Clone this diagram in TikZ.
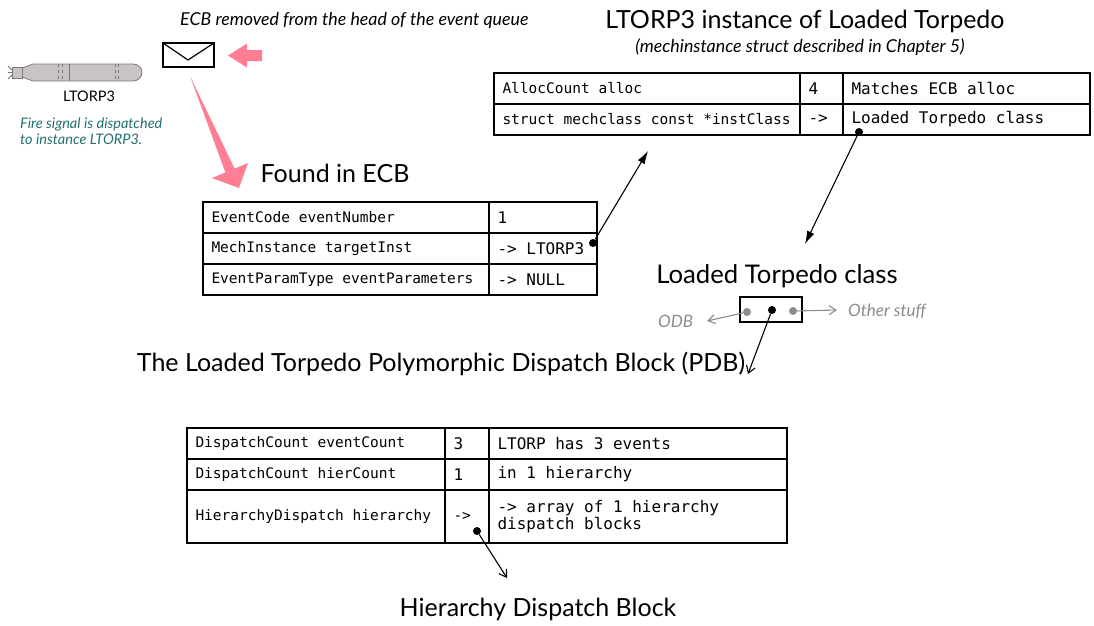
\documentclass[tikz,border=0pt]{standalone}
\usepackage{fontspec}
\setmainfont{Lato}
\setmonofont{DejaVu Sans Mono}
\usetikzlibrary{arrows.meta,positioning}

\definecolor{cuepink}{RGB}{255,126,148}
\definecolor{noteteal}{RGB}{36,112,112}
\definecolor{dimgrey}{RGB}{140,140,140}
\definecolor{hullfill}{RGB}{201,196,196}
\definecolor{hullline}{RGB}{125,120,120}

\newcommand{\fieldfont}{\fontsize{14.5}{17}\selectfont\ttfamily}
\newcommand{\valfont}{\fontsize{16}{17}\selectfont\ttfamily}
\newcommand{\headfont}{\fontsize{25}{29}\selectfont}
\newcommand{\fullspaces}{\spaceskip=0pt\relax\xspaceskip=0pt\relax}

\begin{document}
\begin{tikzpicture}[x=1pt, y=-1pt,
    cell/.style={draw, line width=1.2pt, outer sep=0pt, inner xsep=8.5pt,
                 inner ysep=0pt, minimum height=31pt, align=flush left, text width=#1,
                 execute at begin node=\fullspaces},
    fld/.style={cell=#1, font=\fieldfont},
    val/.style={cell=#1, font=\valfont},
    head/.style={anchor=base, inner sep=0pt, font=\headfont},
    remark/.style={inner sep=0pt, font=\fontsize{17.8}{21}\selectfont\itshape},
    ptr/.style={line width=1.1pt, -{Latex[length=13pt,width=8pt]}},
    link/.style={line width=1.1pt, -{Straight Barb[length=7pt,width=9pt]}},
    faint/.style={link, draw=dimgrey},
    dot/.style={circle, fill, inner sep=0pt, minimum size=8pt}]

  \path[fill=white] (0,0) rectangle (1094,625);

  % the torpedo and its caption
  \filldraw[fill=hullfill, draw=hullline, line width=0.8pt]
    (33,64) -- (133,64) arc[start angle=-90, end angle=90, x radius=9, y radius=8.5]
    -- (33,81) -- (22,77) -- (22,68) -- cycle;
  \filldraw[fill=hullfill, draw=hullline, line width=0.8pt] (12,67) rectangle (22,78);
  \draw[hullline, line width=0.8pt] (8,66) -- (12,70) (8,79) -- (12,75) (8,72.5) -- (12,72.5);
  \draw[hullline, dashed, line width=0.8pt] (58,64) -- (58,81) (62,64) -- (62,81)
    (115,64) -- (115,81) (118,64) -- (118,81);
  \draw[hullline, line width=0.8pt] (69,64) -- (69,81);
  \node[anchor=base, inner sep=0pt, font=\fontsize{14.5}{17}\selectfont] (torp) at (89,101) {LTORP3};
  \node[anchor=north west, inner sep=0pt, align=left, text=noteteal,
        font=\fontsize{14.5}{16}\selectfont\itshape] (fire) at (20,118)
    {Fire signal is dispatched\\to instance LTORP3.};

  % the event control block leaving the queue
  \node[remark, anchor=base west] (deq) at (180,25) {ECB removed from the head of the event queue};
  \draw[line width=1.2pt] (163,43) rectangle (214,67);
  \draw[line width=1.2pt] (163,43) -- (188,60) -- (214,43);
  \fill[cuepink] (228,55.5) -- (247,43.5) -- (247,50) -- (262,50) -- (262,61)
    -- (247,61) -- (247,67.5) -- cycle;
  \fill[cuepink] (190,76) -- (234.6,168.6) -- (248,163) -- (239,188) -- (212,178)
    -- (225.4,172.4) -- cycle;

  % mechinstance
  \node[head] (hinst) at (805,28) {LTORP3 instance of Loaded Torpedo};
  \node[remark, anchor=base] (hsub) at (800,52) {(mechinstance struct described in Chapter 5)};
  \node[fld=289pt, anchor=north west] (a1) at (494,73) {AllocCount alloc};
  \node[val=26pt, right=0pt of a1] (a2) {4};
  \node[val=230pt, right=0pt of a2] (a3) {Matches ECB alloc};
  \node[fld=289pt, below=0pt of a1] (a4) {struct mechclass const *instClass};
  \node[val=26pt, below=0pt of a2] (a5) {->};
  \node[val=230pt, below=0pt of a3] (a6) {Loaded Torpedo class};

  % ECB
  \node[head] (hecb) at (335,182) {Found in ECB};
  \node[fld=269pt, anchor=north west] (b1) at (203,202) {EventCode eventNumber};
  \node[val=91pt, right=0pt of b1] (b2) {1};
  \node[fld=269pt, below=0pt of b1] (b3) {MechInstance targetInst};
  \node[val=91pt, below=0pt of b2] (b4) {-> LTORP3};
  \node[fld=269pt, below=0pt of b3] (b5) {EventParamType eventParameters};
  \node[val=91pt, below=0pt of b4] (b6) {-> NULL};

  % class, ODB and PDB
  \node[head, font=\fontsize{25.7}{29}\selectfont] (hcls) at (777,283) {Loaded Torpedo class};
  \node[draw, line width=1.2pt, minimum width=62pt, minimum height=25pt, inner sep=0pt]
    (cls) at (771,309.5) {};
  \node[remark, anchor=base west, text=dimgrey, font=\fontsize{17}{20}\selectfont\itshape]
    (odb) at (658,327) {ODB};
  \node[remark, anchor=base west, text=dimgrey, font=\fontsize{17}{20}\selectfont\itshape]
    (other) at (848,316) {Other stuff};
  \node[head] (hpdb) at (441,371) {The Loaded Torpedo Polymorphic Dispatch Block (PDB)};
  \node[fld=241pt, anchor=north west] (c1) at (187,428) {DispatchCount eventCount};
  \node[val=27pt, right=0pt of c1] (c2) {3};
  \node[val=281pt, right=0pt of c2] (c3) {LTORP has 3 events};
  \node[fld=241pt, below=0pt of c1] (c4) {DispatchCount hierCount};
  \node[val=27pt, below=0pt of c2] (c5) {1};
  \node[val=281pt, below=0pt of c3] (c6) {in 1 hierarchy};
  \node[fld=241pt, minimum height=53pt, below=0pt of c4] (c7) {HierarchyDispatch hierarchy};
  \node[fld=27pt, minimum height=53pt, below=0pt of c5] (c8) {->};
  \node[val=281pt, minimum height=53pt, below=0pt of c6] (c9)
    {-> array of 1 hierarchy\\dispatch blocks};
  \node[head] (hhdb) at (538,616) {Hierarchy Dispatch Block};

  % pointers
  \node[dot] (da) at (859,132) {};
  \node[dot] (db) at (593,243) {};
  \node[dot] (dc) at (772,310) {};
  \node[dot] (dd) at (477,531) {};
  \node[dot, dimgrey] (dl) at (747,312) {};
  \node[dot, dimgrey] (dr) at (793,311) {};
  \coordinate (tcls) at (805,244);
  \coordinate (tinst) at (648,151);
  \coordinate (tpdb) at (748,374);
  \coordinate (thdb) at (507,578);
  \coordinate (todb) at (707,321);
  \coordinate (toth) at (837,310);

  \foreach \i/\j in {da/tcls, db/tinst}
    \draw[ptr] (\i) -- (\j);
  \foreach \i/\j in {dc/tpdb, dd/thdb}
    \draw[link] (\i) -- (\j);
  \draw[faint] (dl) -- (todb);
  \draw[faint] (dr) -- (toth);
\end{tikzpicture}
\end{document}
